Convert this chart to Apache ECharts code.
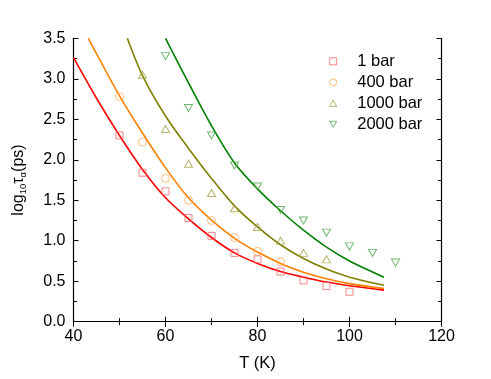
<!DOCTYPE html>
<html>
<head>
<meta charset="utf-8">
<script src="https://cdn.jsdelivr.net/npm/echarts@6/dist/echarts.min.js"></script>
<style>html,body{margin:0;padding:0;background:#fff}#c{width:491px;height:379px}</style>
</head>
<body>
<div id="c"></div>
<script>
// Measured points
const T1 = [50,55,60,65,70,75,80,85,90,95,100];
const V1 = [2.30,1.84,1.61,1.28,1.06,0.85,0.77,0.62,0.51,0.44,0.37];
const T400 = [50,55,60,65,70,75,80,85];
const V400 = [2.78,2.22,1.77,1.50,1.25,1.04,0.87,0.74];
const T1000 = [55,60,65,70,75,80,85,90,95];
const V1000 = [3.05,2.38,1.95,1.59,1.40,1.17,1.00,0.85,0.77];
const T2000 = [60,65,70,75,80,85,90,95,100,105,110];
const V2000 = [3.28,2.64,2.30,1.93,1.67,1.38,1.25,1.10,0.93,0.85,0.73];
// Fit curves
const fitT1 = [40,45,50,55,60,65,70,75,80,85,90,95,100,107.5];
const fitV1 = [3.26,2.76,2.30,1.88,1.53,1.27,1.04,0.85,0.72,0.62,0.55,0.49,0.445,0.39];
const fitT400 = [43.2,45,50,55,60,65,70,75,80,85,90,95,100,107.5];
const fitV400 = [3.5,3.31,2.79,2.33,1.90,1.53,1.255,1.03,0.86,0.72,0.61,0.53,0.47,0.41];
const fitT1000 = [51.7,55,60,65,70,75,80,85,90,95,100,107.5];
const fitV1000 = [3.5,3.04,2.54,2.14,1.77,1.43,1.17,0.95,0.78,0.65,0.55,0.45];
const fitT2000 = [60,65,70,75,80,85,90,95,100,107.5];
const fitV2000 = [3.5,2.95,2.42,1.96,1.64,1.37,1.13,0.92,0.75,0.55];
const names = ['1 bar','400 bar','1000 bar','2000 bar'];
const xTicks = [40,60,80,100,120];
const yTicks = [0,0.5,1,1.5,2,2.5,3,3.5];

const zip = (a,b) => a.map((x,i)=>[x,b[i]]);
const lineCols = ['#ff0000','#ff8000','#808000','#008000'];
const markCols = ['#f86a6a','#ffab5a','#a3a34a','#4aa84a'];
const downTri = 'path://M0,0 L10,0 L5,8.66 Z';
const upTri = 'path://M5,0 L10,8.66 L0,8.66 Z';
const syms = ['rect','circle',upTri,downTri];
const sizes = [[7,7],[8,8],[8,7],[8,7]];
const pts = [zip(T1,V1),zip(T400,V400),zip(T1000,V1000),zip(T2000,V2000)];
const fits = [zip(fitT1,fitV1),zip(fitT400,fitV400),zip(fitT1000,fitV1000),zip(fitT2000,fitV2000)];

const series = [];
for (let i=0;i<4;i++){
  series.push({type:'line', name:names[i]+' fit', data:fits[i], smooth:0.3, showSymbol:false,
    lineStyle:{color:lineCols[i], width:1.6}, itemStyle:{color:lineCols[i]}, silent:true, z:2});
}
for (let i=0;i<4;i++){
  series.push({type:'scatter', name:names[i], data:pts[i], symbol:syms[i], symbolSize:sizes[i],
    itemStyle:{color:'rgba(0,0,0,0)', borderColor:markCols[i], borderWidth:1}, z:3});
}

const font = 'Arial, "Liberation Sans", sans-serif';
const axisCommon = {
  axisLine:{show:true, lineStyle:{color:'#000', width:1.2}},
  splitLine:{show:false},
};
const legendData = names.map((n,i)=>({name:n, icon:syms[i],
  itemStyle:{color:'rgba(0,0,0,0)', borderColor:markCols[i], borderWidth:1}}));
const chart = echarts.init(document.getElementById('c'), null, {renderer:'canvas'});
chart.setOption({
  animation:false,
  backgroundColor:'#fff',
  grid:{left:73.5, right:49.5, top:38.3, bottom:57.3},
  legend:{data:legendData, orient:'vertical', left:324.2, top:47.8, itemWidth:7, itemHeight:7, itemGap:4,
    textStyle:{fontFamily:font, fontSize:16.5, color:'#000', lineHeight:16.5, padding:[0,0,0,15.5]}},
  xAxis:[
    Object.assign({type:'value', min:40, max:120, interval:20, position:'bottom',
      axisTick:{inside:true, length:5, lineStyle:{color:'#000'}},
      minorTick:{show:true, splitNumber:2, length:3.5, lineStyle:{color:'#000'}},
      axisLabel:{fontFamily:font, fontSize:16, color:'#000', margin:7, formatter:v=>xTicks.includes(v)?String(v):''},
      name:'T (K)', nameLocation:'middle', nameGap:33,
      nameTextStyle:{fontFamily:font, fontSize:16.5, color:'#000'}}, axisCommon),
    Object.assign({type:'value', min:40, max:120, interval:20, position:'top',
      axisTick:{inside:true, length:5, lineStyle:{color:'#000'}},
      minorTick:{show:true, splitNumber:2, length:3.5, lineStyle:{color:'#000'}},
      axisLabel:{show:false}}, axisCommon)
  ],
  yAxis:[
    Object.assign({type:'value', min:0, max:3.5, interval:0.5, position:'left',
      axisTick:{inside:true, length:5, lineStyle:{color:'#000'}},
      minorTick:{show:true, splitNumber:2, length:3.5, lineStyle:{color:'#000'}},
      axisLabel:{fontFamily:font, fontSize:16, color:'#000', margin:8, formatter:v=>v.toFixed(1)},
      name:'log{s|10}τ{s|α}(ps)', nameLocation:'middle', nameGap:45, nameRotate:90,
      nameTextStyle:{fontFamily:font, fontSize:16, color:'#000',
        rich:{s:{fontFamily:font, fontSize:9.5, color:'#000', verticalAlign:'bottom', padding:[9,0,0,0]}}}}, axisCommon),
    Object.assign({type:'value', min:0, max:3.5, interval:0.5, position:'right',
      axisTick:{inside:true, length:5, lineStyle:{color:'#000'}},
      minorTick:{show:true, splitNumber:2, length:3.5, lineStyle:{color:'#000'}},
      axisLabel:{show:false}}, axisCommon)
  ],
  series: series
});
</script>
</body>
</html>
